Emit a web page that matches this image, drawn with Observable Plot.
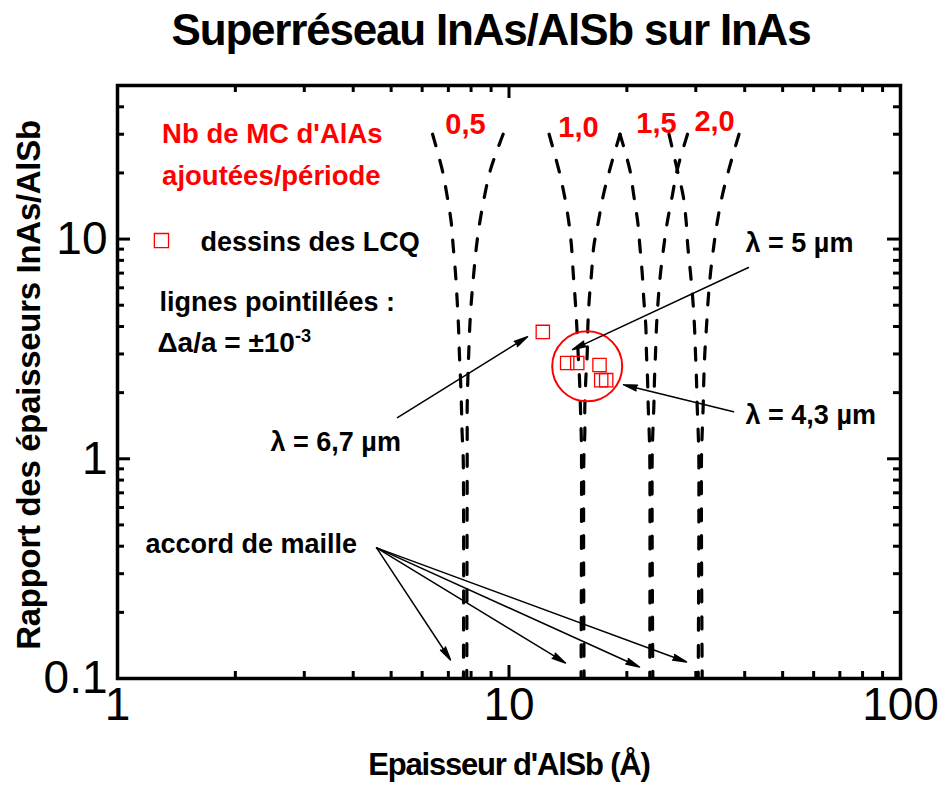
<!DOCTYPE html>
<html><head><meta charset="utf-8">
<script src="https://cdn.jsdelivr.net/npm/d3@7"></script>
<script src="https://cdn.jsdelivr.net/npm/@observablehq/plot@0.6"></script>
<style>body{margin:0;background:#fff} svg{display:block}</style>
</head><body><div id="chart"></div>
<script>
// ---- data ----
const yLevels = [30, 20.7, 15.7, 11.9, 9.3, 7.0, 5.3, 4.0, 3.0, 2.3, 1.73, 1.31, 1.0, 0.1];
const curveLabels = ["0,5", "1,0", "1,5", "2,0"];
const leftBranches = [
  [6.38, 6.75, 6.95, 7.12, 7.20, 7.30, 7.37, 7.43, 7.47, 7.52, 7.56, 7.59, 7.64, 7.65],
  [12.66, 13.40, 13.86, 14.22, 14.44, 14.59, 14.76, 14.90, 15.02, 15.14, 15.22, 15.29, 15.32, 15.28],
  [19.21, 20.35, 20.84, 21.33, 21.59, 21.89, 22.10, 22.36, 22.45, 22.59, 22.68, 22.81, 22.89, 22.89],
  [25.63, 26.90, 27.86, 28.36, 28.62, 29.08, 29.48, 29.77, 29.95, 30.12, 30.25, 30.43, 30.54, 30.43]
];
const rightBranches = [
  [9.66, 8.97, 8.66, 8.42, 8.26, 8.13, 8.02, 7.94, 7.89, 7.85, 7.82, 7.82, 7.82, 7.80],
  [19.21, 18.09, 17.40, 16.90, 16.47, 16.25, 16.03, 15.90, 15.84, 15.71, 15.62, 15.62, 15.53, 15.55],
  [28.57, 26.90, 26.12, 25.36, 24.86, 24.38, 24.05, 23.81, 23.67, 23.53, 23.44, 23.30, 23.21, 23.30],
  [38.68, 36.43, 35.04, 34.02, 33.35, 32.71, 32.27, 31.95, 31.63, 31.45, 31.33, 31.15, 31.02, 31.15]
];
const curveLabelX = [7.74, 15.05, 23.81, 33.5];
const curveLabelY = [33.2, 32.2, 33.6, 34.3];
const lcqX = [12.20, 14.08, 14.94, 17.03, 17.20, 17.71];
const lcqY = [3.78, 2.73, 2.73, 2.67, 2.28, 2.28];
const xMajor = [1, 10, 100];
const xMinor = [2, 3, 4, 5, 6, 7, 8, 9, 20, 30, 40, 50, 60, 70, 80, 90];
const yMajor = [0.1, 1, 10];
const yMinor = [0.2, 0.3, 0.4, 0.5, 0.6, 0.7, 0.8, 0.9, 2, 3, 4, 5, 6, 7, 8, 9, 20, 30, 40];

// annotations (data coordinates)
const redNotes = [
  {text: "Nb de MC d'AlAs", x: 1.30, y: 29.9},
  {text: "ajoutées/période", x: 1.30, y: 19.3}
];
const blackNotes = [
  {text: "dessins des LCQ", x: 1.63, y: 9.64},
  {text: "lignes pointillées :", x: 1.28, y: 5.14},
  {text: "λ = 5 µm", x: 40.2, y: 9.54},
  {text: "λ = 4,3 µm", x: 40.2, y: 1.57},
  {text: "λ = 6,7 µm", x: 2.46, y: 1.183},
  {text: "accord de maille", x: 1.179, y: 0.406}
];
const formulaNote = [{text: "Δa/a = ±10", x: 1.265, y: 3.38}];
const arrows = [
  {x1: 40.9, y1: 7.42, x2: 14.53, y2: 3.14},
  {x1: 37.45, y1: 1.637, x2: 19.61, y2: 2.174},
  {x1: 5.19, y1: 1.538, x2: 11.15, y2: 3.596},
  {x1: 4.59, y1: 0.393, x2: 7.09, y2: 0.1214},
  {x1: 4.59, y1: 0.393, x2: 13.94, y2: 0.1177},
  {x1: 4.59, y1: 0.393, x2: 21.54, y2: 0.1128},
  {x1: 4.59, y1: 0.393, x2: 28.40, y2: 0.1189}
];
const circleCenter = [{x: 15.84, y: 2.634}];
const legendSquare = [{x: 1.295, y: 9.84}];

// ---- build tables ----
const lines = [];
curveLabels.forEach((c, i) => {
  yLevels.forEach((y, j) => lines.push({key: c + "-g", x: leftBranches[i][j], y}));
  yLevels.forEach((y, j) => lines.push({key: c + "-d", x: rightBranches[i][j], y}));
});
const labels = curveLabels.map((t, i) => ({text: t, x: curveLabelX[i], y: curveLabelY[i]}));
const lcq = lcqX.map((x, i) => ({x, y: lcqY[i]}));

const W = 941, H = 785, ML = 117, MR = 41, MT = 85, MB = 107;
const PW = W - ML - MR, PH = H - MT - MB;
const RED = "#ff0000";
const font = "'Liberation Sans', Arial, Helvetica, sans-serif";
const TITLE = "Superréseau InAs/AlSb sur InAs";
const XTITLE = "Epaisseur d'AlSb (Å)";
const YTITLE = "Rapport des épaisseurs InAs/AlSb";

const chart = Plot.plot({
  width: W, height: H,
  marginLeft: ML, marginRight: MR, marginTop: MT, marginBottom: MB,
  x: {type: "log", domain: [1, 100]},
  y: {type: "log", domain: [0.1, 50]},
  style: {fontFamily: font, background: "white", color: "black", overflow: "visible"},
  marks: [
    Plot.line(lines, {x: "x", y: "y", z: "key", stroke: "black", strokeWidth: 3.2,
      strokeDasharray: "12,15", curve: "catmull-rom"}),
    // inward ticks on all four sides
    Plot.tickX(xMajor, {x: d => d, insetTop: PH - 13, stroke: "black", strokeWidth: 3}),
    Plot.tickX(xMinor, {x: d => d, insetTop: PH - 7, stroke: "black", strokeWidth: 3}),
    Plot.tickX(xMajor, {x: d => d, insetBottom: PH - 13, stroke: "black", strokeWidth: 3}),
    Plot.tickX(xMinor, {x: d => d, insetBottom: PH - 7, stroke: "black", strokeWidth: 3}),
    Plot.tickY(yMajor, {y: d => d, insetRight: PW - 13, stroke: "black", strokeWidth: 3}),
    Plot.tickY(yMinor, {y: d => d, insetRight: PW - 7, stroke: "black", strokeWidth: 3}),
    Plot.tickY(yMajor, {y: d => d, insetLeft: PW - 13, stroke: "black", strokeWidth: 3}),
    Plot.tickY(yMinor, {y: d => d, insetLeft: PW - 7, stroke: "black", strokeWidth: 3}),
    Plot.frame({stroke: "black", strokeWidth: 3.5}),
    Plot.axisX({ticks: xMajor, tickSize: 0, tickPadding: 9, fontSize: 46, tickFormat: d => String(d), label: null}),
    Plot.axisY({ticks: yMajor, tickSize: 0, tickPadding: 10, fontSize: 46, tickFormat: d => String(d), label: null}),
    // data points and highlight circle
    Plot.dot(lcq, {x: "x", y: "y", symbol: "square", r: 7.5, stroke: RED, strokeWidth: 1.3, fill: "none"}),
    Plot.dot(circleCenter, {x: "x", y: "y", r: 35, stroke: RED, strokeWidth: 2, fill: "none"}),
    Plot.dot(legendSquare, {x: "x", y: "y", symbol: "square", r: 8, stroke: RED, strokeWidth: 1.3, fill: "none"}),
    // arrows
    Plot.arrow(arrows, {x1: "x1", y1: "y1", x2: "x2", y2: "y2", stroke: "black", fill: "black",
      strokeWidth: 1.5, headLength: 14, headAngle: 24}),
    // annotations
    Plot.text(redNotes, {x: "x", y: "y", text: "text", textAnchor: "start", fill: RED, fontSize: 27.5, fontWeight: "bold"}),
    Plot.text(labels, {x: "x", y: "y", text: "text", fill: RED, fontSize: 29, fontWeight: "bold"}),
    Plot.text(blackNotes, {x: "x", y: "y", text: "text", textAnchor: "start", fill: "black", fontSize: 27, fontWeight: "bold"}),
    Plot.text(formulaNote, {x: "x", y: "y", text: "text", textAnchor: "start", fill: "black", fontSize: 28, fontWeight: "bold"}),
    // titles
    Plot.text([TITLE], {frameAnchor: "top", lineAnchor: "middle", dy: -55, dx: -18, fontSize: 44, fontWeight: "bold"}),
    Plot.text([XTITLE], {frameAnchor: "bottom", lineAnchor: "middle", dy: 87, fontSize: 31, fontWeight: "bold"}),
    Plot.text([YTITLE], {frameAnchor: "left", textAnchor: "middle", lineAnchor: "middle", dx: -88, dy: 3, rotate: -90, fontSize: 33, fontWeight: "bold"})
  ]
});

const sel = d3.select(chart).selectAll("text");
// superscript exponent on the Δa/a label
sel.filter(function () { return this.textContent === "Δa/a = ±10"; })
  .append("tspan").attr("dy", "-0.5em").attr("font-size", "0.65em").text("-3");
// tighter spacing like the reference's condensed bold type
sel.filter(function () { return this.textContent === TITLE; }).attr("letter-spacing", "-1.2px");
sel.filter(function () { return this.textContent === XTITLE; }).attr("letter-spacing", "-1.2px");
sel.filter(function () { return this.textContent === YTITLE; }).attr("letter-spacing", "-0.3px");

document.getElementById("chart").appendChild(chart);
</script></body></html>
